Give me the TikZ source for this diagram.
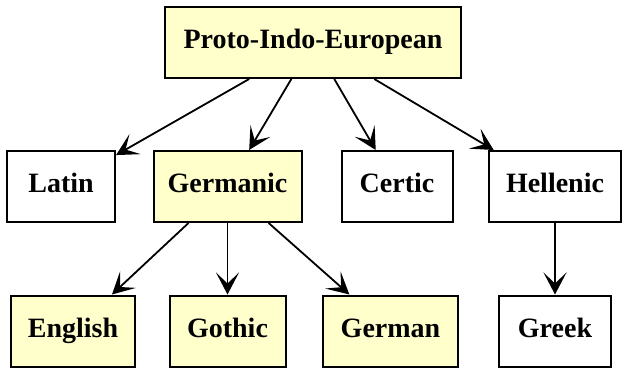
\documentclass[tikz,border=0pt]{standalone}
\usepackage{fontspec}
\setmainfont{Liberation Serif}
\usepackage{xcolor}
\usetikzlibrary{arrows.meta}
\definecolor{kinfill}{RGB}{255,255,204}

\begin{document}
\begin{tikzpicture}[x=1pt,y=-1pt,font=\fontsize{28}{32}\selectfont\bfseries,
  lang/.style={draw,line width=2pt,minimum height=71pt,inner sep=0pt,
    text height=19pt,text depth=7pt},
  kin/.style={lang,fill=kinfill},
  descent/.style={line width=1.8pt,-{Stealth[length=22pt,width=23pt,inset=11pt]}}]
  % pixel grid of the reference: 628 x 374, y grows downward
  \useasboundingbox (0,0) rectangle (628,374);
  \node[kin,minimum width=296pt] (pie) at (313,42.5) {Proto-Indo-European};
  \node[lang,minimum width=108pt] (latin) at (61,186.5) {Latin};
  \node[kin,minimum width=148pt] (germanic) at (227.5,186.5) {Germanic};
  \node[lang,minimum width=111pt] (certic) at (397,186.5) {Certic};
  \node[lang,minimum width=132pt] (hellenic) at (555,186.5) {Hellenic};
  \node[kin,minimum width=124pt] (english) at (73,331) {English};
  \node[kin,minimum width=116pt] (gothic) at (227.5,331) {Gothic};
  \node[kin,minimum width=135pt] (german) at (390.5,331) {German};
  \node[lang,minimum width=112pt] (greek) at (555,331) {Greek};
  \foreach \src/\dst in {pie/latin, pie/germanic, pie/certic, pie/hellenic,
    germanic/english, germanic/gothic, germanic/german, hellenic/greek} {
    \draw[descent] (\src) -- (\dst);
  }
\end{tikzpicture}
\end{document}
